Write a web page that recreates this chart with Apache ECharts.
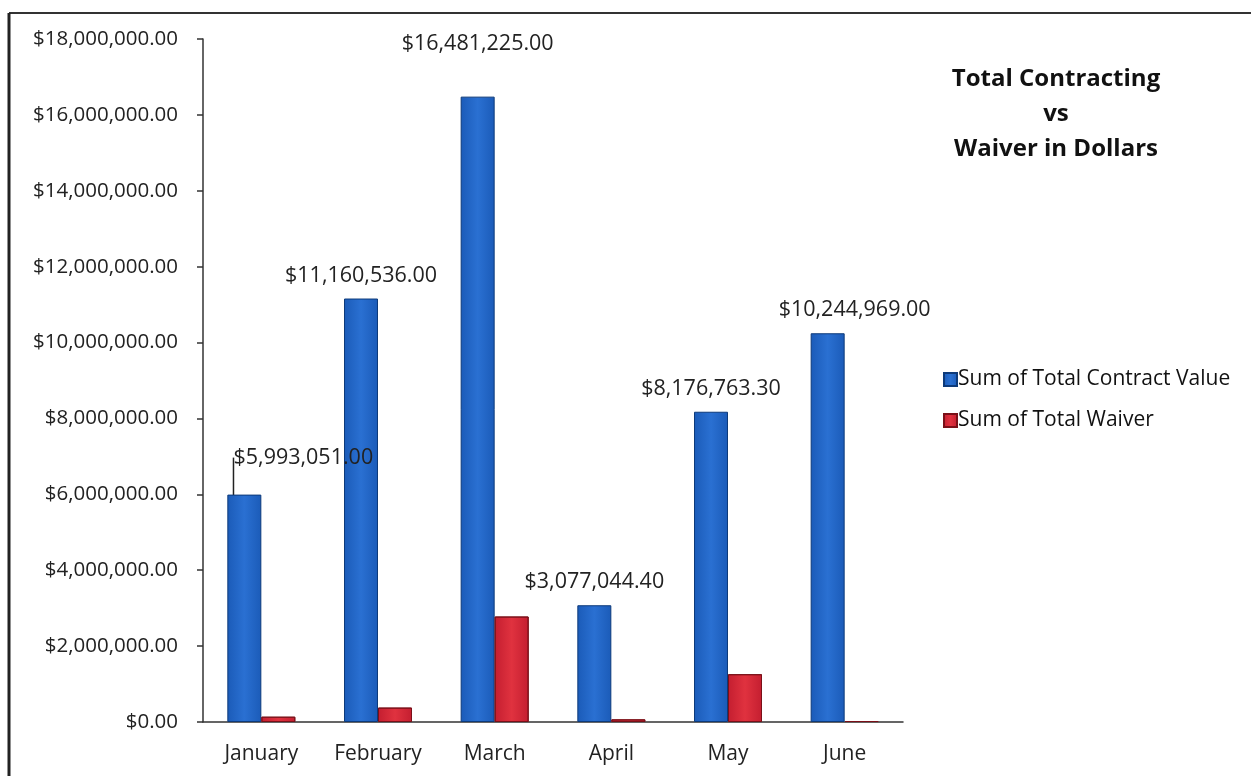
<!DOCTYPE html>
<html>
<head>
<meta charset="utf-8">
<script src="https://cdn.jsdelivr.net/npm/echarts@6/dist/echarts.min.js"></script>
<style>
  html, body { margin: 0; padding: 0; background: #fff; }
  #chart { width: 1251px; height: 776px; }
</style>
</head>
<body>
<div id="chart"></div>
<script>
// Total Contracting vs Waiver in Dollars

var months = ['January', 'February', 'March', 'April', 'May', 'June'];
var contractValue = [5993051.00, 11160536.00, 16481225.00, 3077044.40, 8176763.30, 10244969.00];
var waiverValue = [140000, 380000, 2780000, 70000, 1260000, 25000];
var seriesNames = ['Sum of Total Contract Value', 'Sum of Total Waiver'];

var font = '"Open Sans", "Noto Sans", sans-serif';

function money(v) {
    return '$' + Number(v).toLocaleString('en-US', { minimumFractionDigits: 2, maximumFractionDigits: 2 });
}

// only the January label gets a leader line (it is pushed off the bar)
var contractData = contractValue.map(function (v, i) {
    return i === 0 ? { value: v, labelLine: { show: true } } : v;
});

var myChart = echarts.init(document.getElementById('chart'));
var option = {
    backgroundColor: '#fff',
    title: {
        text: 'Total Contracting\nvs\nWaiver in Dollars',
        left: 1051,
        top: 57,
        textAlign: 'center',
        textStyle: {
            fontFamily: font,
            fontSize: 24,
            fontWeight: 'bold',
            color: '#111',
            lineHeight: 35,
            align: 'center'
        }
    },
    legend: {
        orient: 'vertical',
        left: 938,
        top: 364,
        itemWidth: 13,
        itemHeight: 13,
        itemGap: 20,
        icon: 'rect',
        data: seriesNames,
        textStyle: { fontFamily: font, fontSize: 21, color: '#111', padding: [0, 0, 0, -4] }
    },
    grid: {
        left: 203,
        right: 348,
        top: 39,
        bottom: 54
    },
    xAxis: {
        type: 'category',
        data: months,
        axisLine: { lineStyle: { color: '#333', width: 1.5 } },
        axisTick: { length: 7, lineStyle: { color: '#333', width: 1.5 } },
        axisLabel: { fontFamily: font, fontSize: 21, color: '#222', margin: 22 }
    },
    yAxis: {
        type: 'value',
        min: 0,
        max: 18000000,
        interval: 2000000,
        splitLine: { show: false },
        axisLine: { show: true, lineStyle: { color: '#333', width: 1.5 } },
        axisTick: { show: true, length: 6, lineStyle: { color: '#333', width: 1.5 } },
        axisLabel: {
            fontFamily: font, fontSize: 20.5, color: '#222', margin: 25,
            formatter: money
        }
    },
    labelLayout: function (params) {
        if (params.seriesIndex !== 0) return;
        if (params.dataIndex === 0) return { dx: 59, dy: -14 };
        if (params.dataIndex === 2) return { dy: -30 };
        if (params.dataIndex === 5) return { dx: 27 };
    },
    series: [
        {
            name: seriesNames[0],
            type: 'bar',
            data: contractData,
            barWidth: 34,
            barGap: '0%',
            itemStyle: {
                color: new echarts.graphic.LinearGradient(0, 0, 1, 0, [
                    { offset: 0, color: '#1b5bb8' },
                    { offset: 0.5, color: '#2a70d2' },
                    { offset: 1, color: '#1b5bb8' }
                ]),
                borderColor: '#0d3a7a',
                borderWidth: 1
            },
            label: {
                show: true,
                position: 'top',
                distance: 12,
                fontFamily: font,
                fontSize: 21.5,
                color: '#222',
                formatter: function (p) { return money(p.value); }
            },
            labelLine: { show: false, lineStyle: { color: '#222', width: 1.5 } }
        },
        {
            name: seriesNames[1],
            type: 'bar',
            data: waiverValue,
            barWidth: 34,
            itemStyle: {
                color: new echarts.graphic.LinearGradient(0, 0, 1, 0, [
                    { offset: 0, color: '#c41e30' },
                    { offset: 0.5, color: '#e0323f' },
                    { offset: 1, color: '#c41e30' }
                ]),
                borderColor: '#7a1018',
                borderWidth: 1
            }
        }
    ],
    graphic: [
        { type: 'line', shape: { x1: 9, y1: 13, x2: 1251, y2: 13 }, style: { stroke: '#333', lineWidth: 2 } },
        { type: 'line', shape: { x1: 9, y1: 13, x2: 9, y2: 776 }, style: { stroke: '#222', lineWidth: 3 } }
    ]
};
myChart.setOption(option);
</script>
</body>
</html>
